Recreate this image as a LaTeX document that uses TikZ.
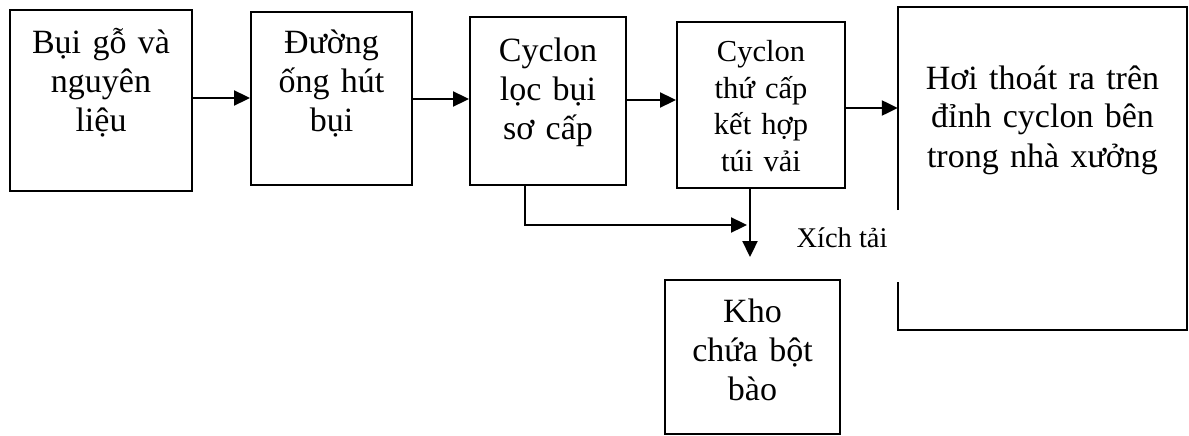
\documentclass[tikz,border=0pt]{standalone}
\usepackage{fontspec}
\setmainfont{Liberation Serif}
\usetikzlibrary{arrows.meta}
\begin{document}
\begin{tikzpicture}[x=1pt,y=-1pt,
  box/.style={draw,line width=2pt,inner sep=0pt,rectangle},
  ghost/.style={inner sep=0pt,rectangle},
  txt/.style={inner sep=0pt,anchor=base,align=center,font=\fontsize{34}{39}\selectfont},
  txtsm/.style={inner sep=0pt,anchor=base,align=center,font=\fontsize{30.5}{36.5}\selectfont},
  arr/.style={line width=2.3pt,-{Triangle[length=16pt,width=15pt]}},
  line/.style={line width=2pt}]
\useasboundingbox (0,0) rectangle (1189,436);
% helper coordinates
\coordinate (r1) at (0,98);
\coordinate (r2) at (0,99);
\coordinate (r3) at (0,100);
\coordinate (r4) at (0,108);
\coordinate (x525) at (525,0);
\coordinate (x750) at (750,0);
\coordinate (g1) at (0,210);
\coordinate (g2) at (0,282);
\coordinate (j) at (747,225);
% boxes
\node[box,minimum width=182pt,minimum height=181pt] (b1) at (101,100.5) {};
\node[box,minimum width=161pt,minimum height=173pt] (b2) at (331.5,98.5) {};
\node[box,minimum width=156pt,minimum height=168pt] (b3) at (548,101) {};
\node[box,minimum width=168pt,minimum height=166pt] (b4) at (761,105) {};
\node[ghost,minimum width=289pt,minimum height=323pt] (b5) at (1042.5,168.5) {};
\node[box,minimum width=175pt,minimum height=154pt] (b6) at (752.5,357) {};
\draw[line] (b5.west |- g1) -- (b5.north west) -- (b5.north east) -- (b5.south east) -- (b5.south west) -- (b5.west |- g2);
% texts
\node[txt,text width=180pt] (t1) at (101,54) {Bụi gỗ và\\nguyên\\liệu};
\node[txt,text width=160pt] (t2) at (331.5,54) {Đường\\ống hút\\bụi};
\node[txt,text width=154pt] (t3) at (548,62) {Cyclon\\lọc bụi\\sơ cấp};
\node[txtsm,text width=166pt] (t4) at (761,62) {Cyclon\\thứ cấp\\kết hợp\\túi vải};
\node[txt,text width=287pt] (t5) at (1042.5,89) {Hơi thoát ra trên\\đỉnh cyclon bên\\trong nhà xưởng};
\node[txt,text width=173pt] (t6) at (752.5,322) {Kho\\chứa bột\\bào};
\node[inner sep=0pt,anchor=base,font=\fontsize{28.5}{34}\selectfont] (xt) at (842,247) {Xích tải};
% connectors
\draw[arr] (b1.east |- r1) -- (b2.west |- r1);
\draw[arr] (b2.east |- r2) -- (b3.west |- r2);
\draw[arr] (b3.east |- r3) -- (b4.west |- r3);
\draw[arr] (b4.east |- r4) -- (b5.west |- r4);
\draw[arr] (b3.south -| x525) |- (j);
\draw[arr,shorten >=22pt] (b4.south -| x750) -- (b6.north -| x750);
\end{tikzpicture}
\end{document}
